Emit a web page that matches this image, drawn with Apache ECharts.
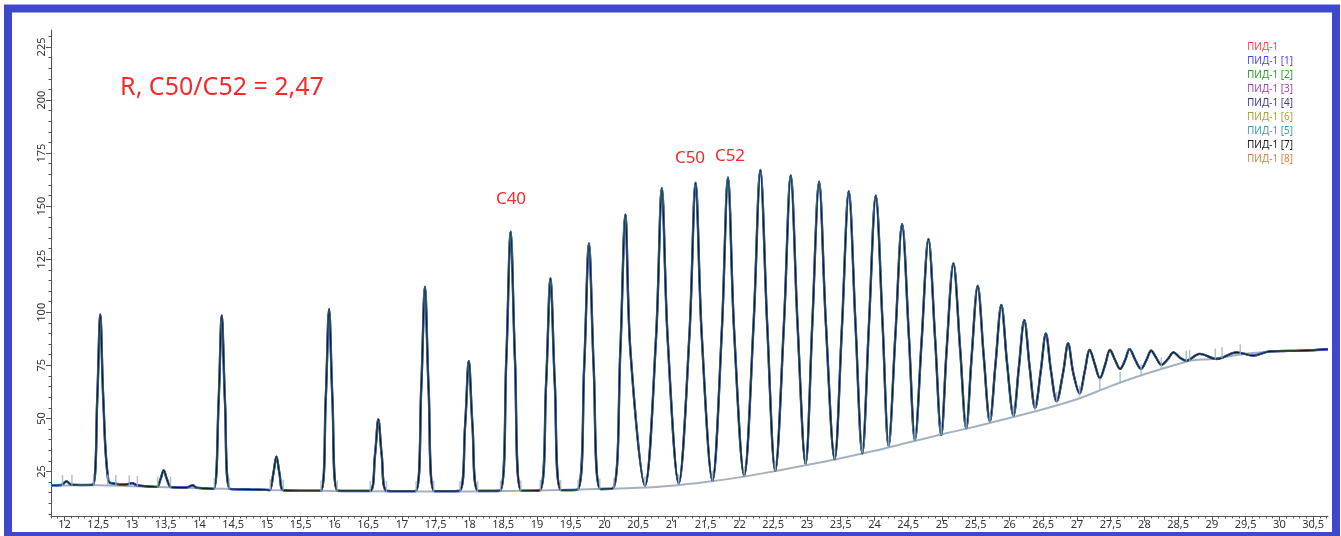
<!DOCTYPE html>
<html>
<head>
<meta charset="utf-8">
<script src="https://cdn.jsdelivr.net/npm/echarts@6/dist/echarts.min.js"></script>
<style>
  html, body { margin: 0; padding: 0; background: #fff; }
  #chart { width: 1341px; height: 536px; }
</style>
</head>
<body>
<div id="chart"></div>
<script>
// retention time (min) / signal
var traceTime = [
  11.80, 11.95, 12.03, 12.10, 12.30,
  12.42, 12.485, 12.53, 12.575, 12.65, 12.75, 12.90, 13.00, 13.08, 13.30,
  13.37, 13.425, 13.47, 13.515, 13.58, 13.80, 13.90, 13.96, 14.10,
  14.21, 14.283, 14.33, 14.378, 14.45, 14.75, 15.00,
  15.04, 15.095, 15.14, 15.185, 15.25, 15.60,
  15.795, 15.87, 15.92, 15.97, 16.045, 16.30,
  16.525, 16.60, 16.65, 16.70, 16.775, 17.00,
  17.20, 17.285, 17.34, 17.395, 17.48,
  17.85, 17.935, 17.99, 18.045, 18.13,
  18.45, 18.545, 18.61, 18.675, 18.77,
  19.04, 19.135, 19.20, 19.265, 19.36,
  19.60, 19.70, 19.77, 19.84, 19.94,
  20.13, 20.235, 20.31, 20.385, 20.60,
  20.765, 20.85, 20.935, 21.10,
  21.26, 21.35, 21.44, 21.60,
  21.74, 21.83, 21.92, 22.07,
  22.21, 22.31, 22.41, 22.53,
  22.66, 22.76, 22.86, 22.98,
  23.08, 23.18, 23.28, 23.41,
  23.52, 23.62, 23.72, 23.82,
  23.92, 24.02, 24.12, 24.21,
  24.31, 24.41, 24.51, 24.60,
  24.70, 24.80, 24.90, 24.99,
  25.07, 25.17, 25.27, 25.36,
  25.44, 25.53, 25.62, 25.71,
  25.795, 25.88, 25.965, 26.06,
  26.14, 26.22, 26.30, 26.38,
  26.465, 26.54, 26.615, 26.70,
  26.795, 26.87, 26.945, 27.04,
  27.115, 27.19, 27.265, 27.34,
  27.42, 27.49, 27.565, 27.64,
  27.715, 27.78, 27.865, 27.95,
  28.03, 28.10, 28.175, 28.25,
  28.35, 28.43, 28.53, 28.62,
  28.82, 29.07, 29.37, 29.61, 29.86, 30.35, 30.72
];
var traceSignal = [
  18.5, 18.6, 20.3, 18.8, 18.6,
  18.7, 58.9, 99, 58.9, 20.5, 19.2, 18.8, 19.5, 18.4, 17.8,
  17.7, 21.6, 25.5, 21.6, 17.6, 17.4, 18.4, 17.3, 17.0,
  16.8, 57.6, 98.5, 57.6, 16.8, 16.5, 16.3,
  16.2, 24.1, 32, 24.1, 16.1, 15.9,
  15.9, 58.7, 101.5, 58.7, 15.9, 15.8,
  15.8, 32.6, 49.5, 32.6, 15.8, 15.7,
  15.7, 63.8, 112, 63.8, 15.7,
  15.8, 46.4, 77, 46.4, 15.8,
  15.9, 77, 138, 77, 15.9,
  16.1, 66, 116, 66, 16.2,
  16.4, 74.5, 132.5, 74.5, 16.7,
  17.1, 81.6, 146, 81.6, 18.3,
  88.5, 158.5, 88.5, 19.3,
  90, 161, 90, 20.6,
  92, 163.5, 92, 23,
  95, 167, 95, 25.3,
  95, 164.5, 95, 28.5,
  95, 161.5, 95, 30.8,
  94, 157, 94, 33.5,
  95, 155, 95, 37.1,
  89, 141.5, 89, 39.8,
  87, 134.5, 87, 42.2,
  82.5, 123, 82.5, 45.3,
  79, 112.5, 79, 48.6,
  76, 103.5, 76, 51.3,
  74, 96.3, 74, 54.9,
  72.5, 90, 72.5, 58,
  71.5, 85.3, 71.5, 61.8,
  72, 82.3, 75.5, 68.9,
  75.5, 82.3, 77.5, 73.3,
  77.5, 82.7, 77.5, 73.3,
  77.5, 81.9, 78.5, 75.2,
  78, 81.1, 78.5, 77.2,
  80.4, 78.0, 81.1, 79.6, 81.6, 81.9, 82.6
];

// integration baseline
var baselineTime = [11.8, 12.5, 13.0, 14.0, 15.0, 16.0, 17.0, 18.0, 19.0, 20.0, 20.5, 21.0, 21.5, 22.0, 22.5, 23.0,
  23.5, 24.0, 24.5, 25.0, 25.5, 26.0, 26.5, 27.0, 27.5, 28.0, 28.5, 28.7, 29.0, 29.5, 30.0, 30.72];
var baselineSignal = [18.3, 18.5, 18.0, 17.1, 16.3, 15.8, 15.6, 15.6, 16.0, 16.8, 17.3, 18.3, 20.0, 22.2, 25.0, 28.0,
  31.2, 34.7, 38.6, 42.5, 46.2, 50.2, 54.3, 59.0, 65.2, 70.8, 75.6, 77.3, 78.0, 80.4, 81.6, 82.5];

// peak start / end markers
var markerTime = [11.97, 12.11, 12.43, 12.64, 12.76, 12.96, 13.08, 13.38, 13.57, 14.22, 14.44, 15.05, 15.24, 15.80,
  16.04, 16.53, 16.77, 17.21, 17.47, 17.86, 18.12, 18.46, 18.76, 19.05, 19.35, 19.61, 19.93, 20.14, 20.60, 21.10,
  21.60, 22.07, 22.53, 22.98, 23.41, 23.82, 24.21, 24.60, 24.99, 25.36, 25.71, 26.06, 26.38, 26.70, 27.04, 27.34,
  27.64, 27.95, 28.25, 28.62, 28.67, 29.05, 29.15, 29.42];
var markerSignal = [18.4, 18.5, 18.5, 18.6, 18.4, 18.2, 18.0, 17.6, 17.5, 17.0, 16.8, 16.3, 16.2, 15.8,
  15.8, 15.7, 15.6, 15.6, 15.6, 15.6, 15.6, 15.7, 15.8, 16.0, 16.1, 16.3, 16.7, 17.0, 17.8, 18.8,
  20.2, 22.6, 25.2, 28.0, 31.0, 33.8, 36.9, 39.5, 42.4, 45.2, 48.0, 51.0, 54.1, 57.4, 60.5, 64.0,
  67.0, 70.5, 73.8, 77.0, 77.3, 78.0, 78.6, 80.0];

var xMajorTicks = [12, 12.5, 13, 13.5, 14, 14.5, 15, 15.5, 16, 16.5, 17, 17.5, 18, 18.5, 19, 19.5, 20, 20.5,
  21, 21.5, 22, 22.5, 23, 23.5, 24, 24.5, 25, 25.5, 26, 26.5, 27, 27.5, 28, 28.5, 29, 29.5, 30, 30.5];
var yMajorTicks = [25, 50, 75, 100, 125, 150, 175, 200, 225];

var seriesNames = ['ПИД-1', 'ПИД-1 [1]', 'ПИД-1 [2]', 'ПИД-1 [3]', 'ПИД-1 [4]', 'ПИД-1 [6]', 'ПИД-1 [5]', 'ПИД-1 [7]', 'ПИД-1 [8]'];
var seriesColors = ['#ff4545', '#4848ff', '#2f9a2f', '#a548a5', '#3c3c8c', '#a3a33a', '#3ea3a3', '#1a1a1a', '#d9823f'];

(function() {
  var axisFont = 'Noto Sans';
  var xMinorTicks = [];
  for (var k = 118; k <= 307; k++) {
    if (k % 5 !== 0) xMinorTicks.push(k / 10);
  }
  var yMinorTicks = [];
  for (var v = 5; v <= 230; v += 5) {
    if (v % 25 !== 0) yMinorTicks.push(v);
  }

  var traceData = traceTime.map(function(t, i) { return [t, traceSignal[i]]; });
  var baselineData = baselineTime.map(function(t, i) { return [t, baselineSignal[i]]; });
  var markerData = markerTime.map(function(t, i) { return [t, markerSignal[i]]; });

  // line widths / stacking so that the overlaid runs look like the original
  var widths = [1, 2.4, 1, 1, 2.2, 1, 1.8, 1.2, 1];
  var zs = [2, 3, 2, 2, 4, 2, 5, 6, 2];

  var series = [{
    name: 'baseline',
    type: 'line',
    data: baselineData,
    showSymbol: false,
    smooth: 0.3,
    lineStyle: { color: '#a4b2bf', width: 2 },
    z: 1,
    silent: true
  }, {
    name: 'markers',
    type: 'scatter',
    data: markerData,
    symbol: 'rect',
    symbolSize: [1.5, 11],
    symbolOffset: [0, -5],
    itemStyle: { color: '#9fb0c0' },
    z: 7,
    silent: true
  }];
  for (var i = 0; i < seriesNames.length; i++) {
    series.push({
      name: seriesNames[i],
      type: 'line',
      data: traceData,
      showSymbol: false,
      smooth: 0.35,
      itemStyle: { color: seriesColors[i] },
      lineStyle: { color: seriesColors[i], width: widths[i] },
      z: zs[i]
    });
  }

  var axisBase = {
    type: 'value',
    splitLine: { show: false },
    axisLine: { show: true, lineStyle: { color: '#555', width: 1 } }
  };

  var option = {
    backgroundColor: '#fff',
    animation: false,
    grid: { left: 51, right: 13, top: 30, bottom: 20 },
    legend: {
      orient: 'vertical',
      left: 1237,
      top: 36,
      icon: 'rect',
      itemWidth: 0,
      itemHeight: 0,
      itemGap: 2,
      textStyle: { fontSize: 10, fontFamily: axisFont, lineHeight: 12 },
      data: seriesNames.map(function(n, i) {
        return { name: n, textStyle: { color: seriesColors[i] } };
      })
    },
    xAxis: [
      echarts.util.merge({
        min: 11.8, max: 30.72, position: 'bottom',
        axisTick: { customValues: xMajorTicks, length: 5, lineStyle: { color: '#555' } },
        axisLabel: {
          customValues: xMajorTicks, margin: 3, fontSize: 11, color: '#333', fontFamily: axisFont,
          formatter: function(val) { return String(val).replace('.', ','); }
        }
      }, axisBase, true),
      {
        type: 'value', min: 11.8, max: 30.72, position: 'bottom',
        splitLine: { show: false }, axisLine: { show: false },
        axisTick: { customValues: xMinorTicks, length: 2.5, lineStyle: { color: '#555' } },
        axisLabel: { show: false }
      }
    ],
    yAxis: [
      echarts.util.merge({
        min: 4, max: 233, position: 'left',
        axisTick: { customValues: yMajorTicks, length: 5, lineStyle: { color: '#555' } },
        axisLabel: {
          customValues: yMajorTicks, rotate: 90, margin: 4, fontSize: 11, color: '#333', fontFamily: axisFont
        }
      }, axisBase, true),
      {
        type: 'value', min: 4, max: 233, position: 'left',
        splitLine: { show: false }, axisLine: { show: false },
        axisTick: { customValues: yMinorTicks, length: 2.5, lineStyle: { color: '#555' } },
        axisLabel: { show: false }
      }
    ],
    graphic: [
      {
        type: 'rect', silent: true, z: 100,
        shape: { x: 8, y: 8.5, width: 1328, height: 527.5 },
        style: { fill: 'none', stroke: '#3f48cc', lineWidth: 8 }
      },
      {
        type: 'text', x: 222, y: 88,
        style: { text: 'R, C50/C52 = 2,47', fill: '#f02c2c', font: '25px "Noto Sans"', align: 'center', verticalAlign: 'middle' }
      },
      {
        type: 'text', x: 511, y: 199,
        style: { text: 'C40', fill: '#f02c2c', font: '17px "Noto Sans"', align: 'center', verticalAlign: 'middle' }
      },
      {
        type: 'text', x: 690, y: 158,
        style: { text: 'C50', fill: '#f02c2c', font: '17px "Noto Sans"', align: 'center', verticalAlign: 'middle' }
      },
      {
        type: 'text', x: 730, y: 156,
        style: { text: 'C52', fill: '#f02c2c', font: '17px "Noto Sans"', align: 'center', verticalAlign: 'middle' }
      }
    ],
    series: series
  };

  var chart = echarts.init(document.getElementById('chart'));
  chart.setOption(option);
})();
</script>
</body>
</html>
